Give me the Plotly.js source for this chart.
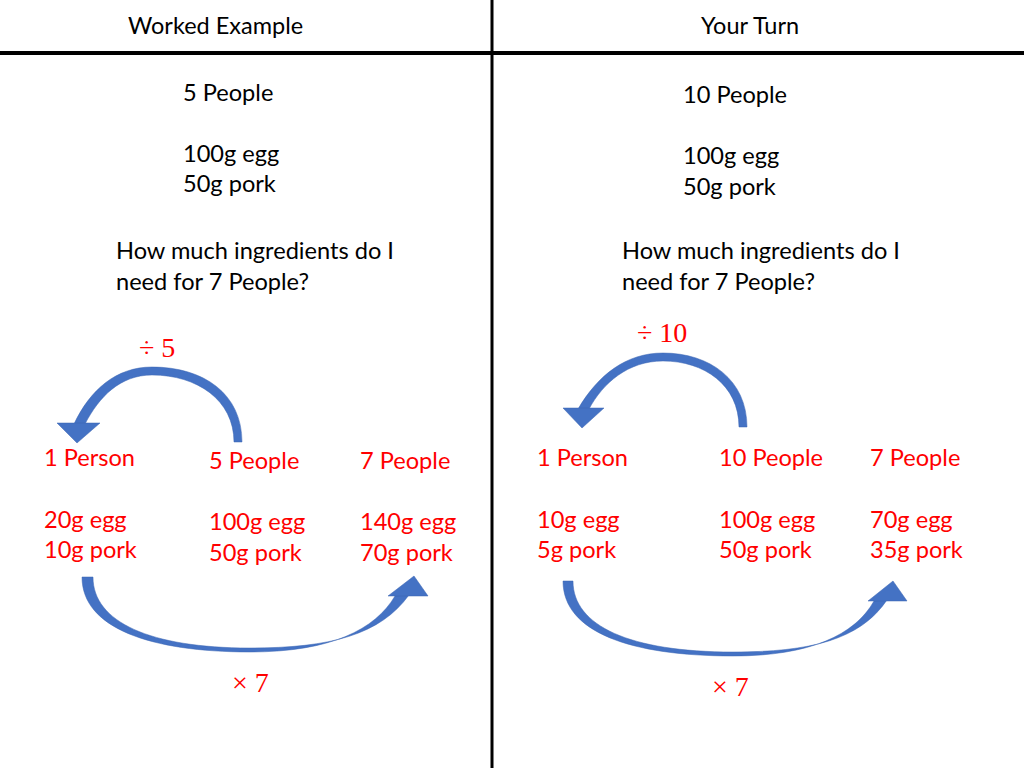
<!DOCTYPE html>
<html>
<head>
<meta charset="utf-8">
<script src="https://cdn.plot.ly/plotly-3.0.1.min.js"></script>
<style>html,body{margin:0;padding:0;background:#fff;}#chart{width:1024px;height:768px;}</style>
</head>
<body>
<div id="chart"></div>
<script>
// ---- content ----
const headers = ["Worked Example", "Your Turn"];
const givenPeople = ["5 People", "10 People"];
const givenEgg = ["100g egg", "100g egg"];
const givenPork = ["50g pork", "50g pork"];
const questionLine1 = ["How much ingredients do I", "How much ingredients do I"];
const questionLine2 = ["need for 7 People?", "need for 7 People?"];
const divideLabels = ["÷ 5", "÷ 10"];
const multiplyLabels = ["× 7", "× 7"];
const leftColumnHeads = ["1 Person", "5 People", "7 People"];
const leftColumnEgg = ["20g egg", "100g egg", "140g egg"];
const leftColumnPork = ["10g pork", "50g pork", "70g pork"];
const rightColumnHeads = ["1 Person", "10 People", "7 People"];
const rightColumnEgg = ["10g egg", "100g egg", "70g egg"];
const rightColumnPork = ["5g pork", "50g pork", "35g pork"];

// ---- styling / layout ----
const BODY_FONT = "Lato, 'Open Sans', sans-serif";
const MATH_FONT = "'Liberation Serif', 'DejaVu Serif', serif";
const RED = "#ff0000";
const BLUE = "#4472c4";
const BLUE_EDGE = "#3a65b3";
const SIZE = 23.6;

const annotations = [];
function txt(text, x, y, opts) {
  opts = opts || {};
  const anchor = opts.anchor || "left";
  annotations.push({
    text: text, x: x, y: y, xref: "x", yref: "y",
    xanchor: anchor, yanchor: "middle",
    xshift: anchor === "left" ? -3 : 0, yshift: 2,
    showarrow: false,
    font: {family: opts.family || BODY_FONT, size: opts.size || SIZE, color: opts.color || "#000"}
  });
}

// headers
txt(headers[0], 215, 27, {anchor: "center", size: 23.5});
txt(headers[1], 750, 27, {anchor: "center", size: 23.5});

// given info
const givenX = [184, 684];
const givenY = [[94, 155, 185], [96, 157, 188]];
for (let i = 0; i < 2; i++) {
  txt(givenPeople[i], givenX[i], givenY[i][0]);
  txt(givenEgg[i], givenX[i], givenY[i][1]);
  txt(givenPork[i], givenX[i], givenY[i][2]);
}
const qX = [117, 623];
for (let i = 0; i < 2; i++) {
  txt(questionLine1[i], qX[i], 252);
  txt(questionLine2[i], qX[i], 283);
}

// operator labels
txt(divideLabels[0], 157, 349, {anchor: "center", family: MATH_FONT, size: 28, color: RED});
txt(divideLabels[1], 662, 334, {anchor: "center", family: MATH_FONT, size: 28, color: RED});
txt(multiplyLabels[0], 250, 684, {anchor: "center", family: MATH_FONT, size: 28, color: RED});
txt(multiplyLabels[1], 730, 688, {anchor: "center", family: MATH_FONT, size: 28, color: RED});

// red columns
const leftColX = [45, 210, 361];
const leftColY = [[459, 521, 551], [462, 523, 554], [462, 523, 554]];
for (let j = 0; j < 3; j++) {
  txt(leftColumnHeads[j], leftColX[j], leftColY[j][0], {color: RED});
  txt(leftColumnEgg[j], leftColX[j], leftColY[j][1], {color: RED});
  txt(leftColumnPork[j], leftColX[j], leftColY[j][2], {color: RED});
}
const rightColX = [538, 720, 871];
for (let j = 0; j < 3; j++) {
  txt(rightColumnHeads[j], rightColX[j], 459, {color: RED});
  txt(rightColumnEgg[j], rightColX[j], 521, {color: RED});
  txt(rightColumnPork[j], rightColX[j], 551, {color: RED});
}

// ---- shapes: divider lines and curved arrows ----
const arrowStyle = {type: "path", xref: "x", yref: "y", fillcolor: BLUE, line: {color: BLUE_EDGE, width: 0.5}, layer: "above"};
const shapes = [
  {type: "line", xref: "x", yref: "y", x0: 0, x1: 1024, y0: 53, y1: 53, line: {color: "#000", width: 4}},
  {type: "line", xref: "x", yref: "y", x0: 492, x1: 492, y0: 0, y1: 768, line: {color: "#000", width: 3}},
  // top-left divide arrow
  Object.assign({}, arrowStyle, {path: "M 242,442 C 242,394 204,367 152,367 C 116,367 90,390 74,424 L 85,424 C 99,397 120,375 152,375 C 197,375 234,400 234,442 Z"}),
  Object.assign({}, arrowStyle, {path: "M 57,423 L 100,423 L 77,443 Z"}),
  // top-right divide arrow
  Object.assign({}, arrowStyle, {path: "M 747,427 C 747,380 710,353 663,353 C 626,353 598,375 578,409 L 589,409 C 603,383 628,361 663,361 C 704,361 739,385 739,427 Z"}),
  Object.assign({}, arrowStyle, {path: "M 563,408 L 604,408 L 582,428 Z"}),
  // bottom-left multiply arrow
  Object.assign({}, arrowStyle, {path: "M 82,577 C 82,628 150,652 250,652 C 330,652 375,630 395,596 L 409,595 C 380,635 330,648 250,648 C 150,648 93,622 93,577 Z"}),
  Object.assign({}, arrowStyle, {path: "M 388,596 L 428,596 L 414,576 Z"}),
  // bottom-right multiply arrow
  Object.assign({}, arrowStyle, {path: "M 563,581 C 563,632 630,656 733,656 C 810,656 855,635 874,601 L 887,600 C 860,640 810,652 733,652 C 630,652 573,626 573,581 Z"}),
  Object.assign({}, arrowStyle, {path: "M 868,601 L 907,601 L 893,581 Z"})
];

const layout = {
  width: 1024, height: 768,
  margin: {l: 0, r: 0, t: 0, b: 0, pad: 0},
  paper_bgcolor: "#fff", plot_bgcolor: "#fff",
  showlegend: false,
  xaxis: {range: [0, 1024], visible: false, fixedrange: true},
  yaxis: {range: [768, 0], visible: false, fixedrange: true},
  annotations: annotations,
  shapes: shapes
};

Plotly.newPlot("chart", [], layout, {staticPlot: true, displayModeBar: false});
</script>
</body>
</html>
